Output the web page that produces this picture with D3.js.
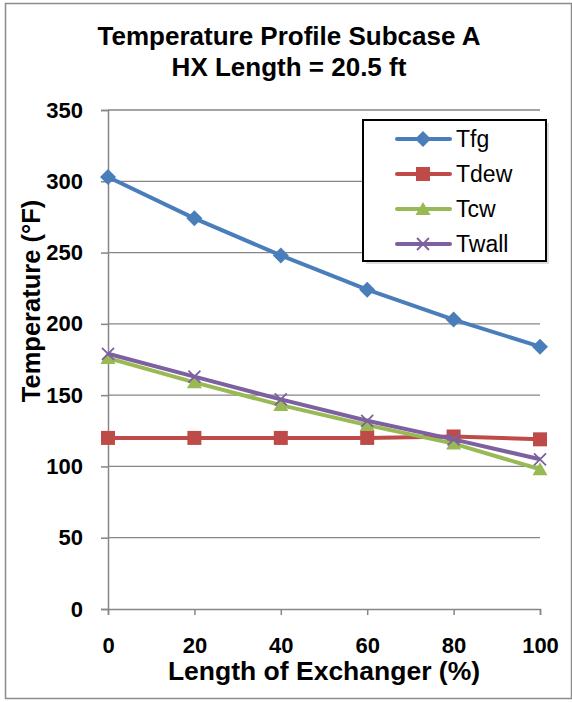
<!DOCTYPE html>
<html>
<head>
<meta charset="utf-8">
<script src="https://cdn.jsdelivr.net/npm/d3@7"></script>
<style>
  body { margin: 0; background: #fff; }
  text { font-family: "Liberation Sans", Arial, sans-serif; }
</style>
</head>
<body>
<script>
// data
var lengths = [0, 20, 40, 60, 80, 100];
var tfg   = [303, 274, 248, 224, 203, 184];
var tdew  = [120, 120, 120, 120, 121, 119];
var tcw   = [176, 159, 143, 129, 116, 98];
var twall = [179, 163, 147, 132, 119, 105];
var seriesNames = ["Tfg", "Tdew", "Tcw", "Twall"];
var yTicks = [0, 50, 100, 150, 200, 250, 300, 350];
var xTicks = [0, 20, 40, 60, 80, 100];

var colors = ["#4a7ebb", "#be4b48", "#98b954", "#7d60a0"];
var markers = ["diamond", "square", "triangle", "cross"];
var values = [tfg, tdew, tcw, twall];

var W = 572, H = 702;
var margin = {top: 110, right: 32, bottom: 93, left: 108}
  , width = W - margin.left - margin.right
  , height = H - margin.top - margin.bottom;

var svg = d3.select("body").append("svg")
    .attr("width", W)
    .attr("height", H);

// outer chart border
svg.append("rect")
    .attr("x", 5.5).attr("y", 3.5)
    .attr("width", 566).attr("height", 695)
    .attr("fill", "#fff")
    .attr("stroke", "#8c8c8c")
    .attr("stroke-width", 1.5);

svg.append("text")
    .attr("x", 289).attr("y", 45)
    .attr("text-anchor", "middle")
    .attr("font-size", "26px").attr("font-weight", "bold")
    .text("Temperature Profile Subcase A");
svg.append("text")
    .attr("x", 289).attr("y", 76)
    .attr("text-anchor", "middle")
    .attr("font-size", "26px").attr("font-weight", "bold")
    .text("HX Length = 20.5 ft");

var g = svg.append("g")
    .attr("transform", "translate(" + margin.left + "," + margin.top + ")");

var xScale = d3.scaleLinear().domain([0, 100]).range([0, width]);
var yScale = d3.scaleLinear().domain([0, 350]).range([height, 0]);

// gridlines
g.append("g")
    .selectAll("line")
    .data(yTicks.filter(function(d) { return d > 0; }))
  .enter().append("line")
    .attr("x1", 0).attr("x2", width)
    .attr("y1", function(d) { return yScale(d); })
    .attr("y2", function(d) { return yScale(d); })
    .attr("stroke", "#868686").attr("stroke-width", 1.3);

// y axis
var yAxis = g.append("g")
    .call(d3.axisLeft(yScale).tickValues(yTicks).tickSize(7).tickPadding(18));
// x axis
var xAxis = g.append("g")
    .attr("transform", "translate(0," + height + ")")
    .call(d3.axisBottom(xScale).tickValues(xTicks).tickSize(6).tickPadding(22));

[yAxis, xAxis].forEach(function(ax) {
    ax.select(".domain").attr("stroke", "#868686").attr("stroke-width", 1.5);
    ax.selectAll(".tick line").attr("stroke", "#868686").attr("stroke-width", 1.5);
    ax.selectAll(".tick text")
        .attr("fill", "#000")
        .style("font-family", "Liberation Sans, Arial, sans-serif")
        .style("font-size", "22px").style("font-weight", "bold");
});

svg.append("text")
    .attr("transform", "translate(40,301) rotate(-90)")
    .attr("text-anchor", "middle")
    .attr("font-size", "25.5px").attr("font-weight", "bold")
    .text("Temperature (°F)");

svg.append("text")
    .attr("x", 324).attr("y", 680)
    .attr("text-anchor", "middle")
    .attr("font-size", "26.5px").attr("font-weight", "bold")
    .text("Length of Exchanger (%)");

var line = d3.line()
    .x(function(d, i) { return xScale(lengths[i]); })
    .y(function(d) { return yScale(d); });

function drawMarker(sel, type, color) {
    if (type === "diamond") {
        sel.append("path").attr("d", "M0,-8L8,0L0,8L-8,0Z").attr("fill", color);
    } else if (type === "square") {
        sel.append("rect").attr("x", -7).attr("y", -7).attr("width", 14).attr("height", 14).attr("fill", color);
    } else if (type === "triangle") {
        sel.append("path").attr("d", "M0,-7L7.5,6L-7.5,6Z").attr("fill", color);
    } else {
        sel.append("path").attr("d", "M-6,-6L6,6M-6,6L6,-6")
            .attr("stroke", color).attr("stroke-width", 1.8).attr("fill", "none");
    }
}

values.forEach(function(vals, k) {
    g.append("path")
        .datum(vals)
        .attr("fill", "none")
        .attr("stroke", colors[k])
        .attr("stroke-width", 4)
        .attr("stroke-linejoin", "round")
        .attr("d", line);
    g.selectAll(".m" + k)
        .data(vals)
      .enter().append("g")
        .attr("class", "m" + k)
        .attr("transform", function(d, i) {
            return "translate(" + xScale(lengths[i]) + "," + yScale(d) + ")";
        })
        .each(function() { drawMarker(d3.select(this), markers[k], colors[k]); });
});

// legend
var legend = svg.append("g");
legend.append("rect")
    .attr("x", 366).attr("y", 123).attr("width", 183).attr("height", 141)
    .attr("fill", "#bbb").attr("opacity", 0.5);
legend.append("rect")
    .attr("x", 363).attr("y", 120).attr("width", 183).attr("height", 141)
    .attr("fill", "#fff").attr("stroke", "#000").attr("stroke-width", 2);

seriesNames.forEach(function(name, k) {
    var y = 139 + k * 35;
    var row = legend.append("g");
    row.append("line")
        .attr("x1", 397).attr("x2", 450).attr("y1", y).attr("y2", y)
        .attr("stroke", colors[k]).attr("stroke-width", 4).attr("stroke-linecap", "round");
    drawMarker(row.append("g").attr("transform", "translate(423," + y + ")"), markers[k], colors[k]);
    row.append("text")
        .attr("x", 456).attr("y", y + 8)
        .attr("font-size", "23px")
        .text(name);
});
</script>
</body>
</html>
